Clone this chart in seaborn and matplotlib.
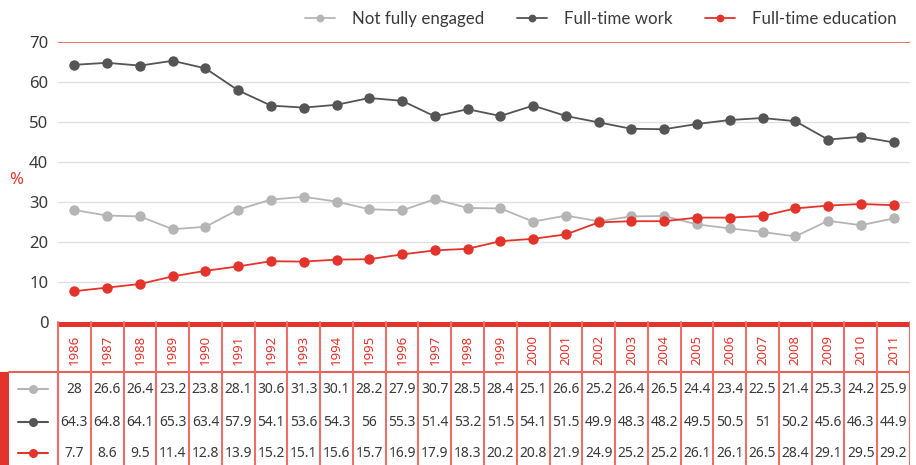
import numpy as np
import pandas as pd
import matplotlib
matplotlib.use("Agg")
import matplotlib.pyplot as plt
import seaborn as sns

years = list(range(1986, 2012))
not_engaged = [28, 26.6, 26.4, 23.2, 23.8, 28.1, 30.6, 31.3, 30.1, 28.2, 27.9, 30.7, 28.5,
               28.4, 25.1, 26.6, 25.2, 26.4, 26.5, 24.4, 23.4, 22.5, 21.4, 25.3, 24.2, 25.9]
ft_work = [64.3, 64.8, 64.1, 65.3, 63.4, 57.9, 54.1, 53.6, 54.3, 56, 55.3, 51.4, 53.2,
           51.5, 54.1, 51.5, 49.9, 48.3, 48.2, 49.5, 50.5, 51, 50.2, 45.6, 46.3, 44.9]
ft_edu = [7.7, 8.6, 9.5, 11.4, 12.8, 13.9, 15.2, 15.1, 15.6, 15.7, 16.9, 17.9, 18.3,
          20.2, 20.8, 21.9, 24.9, 25.2, 25.2, 26.1, 26.1, 26.5, 28.4, 29.1, 29.5, 29.2]
series_names = ["Not fully engaged", "Full-time work", "Full-time education"]
series_vals = [not_engaged, ft_work, ft_edu]
colors = ["#b5b5b5", "#555555", "#e3342c"]
yticks = [0, 10, 20, 30, 40, 50, 60, 70]

RED = "#e3342c"
DARK = "#3a3a3a"

df = pd.DataFrame({
    "year": years * 3,
    "value": not_engaged + ft_work + ft_edu,
    "series": sum([[n] * len(years) for n in series_names], []),
})

sns.set_theme(style="white")
plt.rcParams["font.family"] = ["Noto Sans", "DejaVu Sans"]

W, H = 916, 465
fig = plt.figure(figsize=(W / 100, H / 100), dpi=100)

# main chart area in pixels
left_px, right_px, top_px, zero_px = 58, 910, 42, 322
ax = fig.add_axes([left_px / W, 1 - zero_px / H, (right_px - left_px) / W, (zero_px - top_px) / H])
x0, x1 = years[0] - 0.5, years[-1] + 0.5

sns.lineplot(data=df, x="year", y="value", hue="series", hue_order=series_names,
             palette=colors, marker="o", markersize=7.5, markeredgewidth=0,
             linewidth=1.3, ax=ax, clip_on=False)
ax.set_xlim(x0, x1)
ax.set_ylim(0, 70)
ax.set_yticks(yticks)
ax.set_xticks([])
ax.set_xlabel("")
ax.set_ylabel("")
ax.tick_params(axis="y", length=0, pad=7, labelsize=12, labelcolor=DARK)
for s in ax.spines.values():
    s.set_visible(False)
for t in yticks[1:-1]:
    ax.axhline(t, color="#e2e2e2", lw=1, zorder=0)
ax.axhline(70, color="#e8625b", lw=1.3, zorder=0)
fig.text(16 / W, 1 - 180 / H, "%", color=RED, fontsize=12, ha="center", va="center")

handles, labels = ax.get_legend_handles_labels()
ax.get_legend().remove()
leg = fig.legend(handles, labels, loc="center right", bbox_to_anchor=(912 / W, 1 - 19 / H),
                 ncol=3, frameon=False, fontsize=12.2, handlelength=1.8,
                 columnspacing=1.9, handletextpad=1.0, markerscale=0.75)
for t in leg.get_texts():
    t.set_color(DARK)
    t.set_family(["Lato", "DejaVu Sans"])

# table area: x in year units, y in pixels
upp = (x1 - x0) / (right_px - left_px)
tab = fig.add_axes([0, 0, right_px / W, (H - 318) / H])
tab.set_xlim(x0 - left_px * upp, x1)
tab.set_ylim(H, 318)
tab.axis("off")

band_top, band_bot, row_top = 322, 327, 372
tab.fill_between([x0, x1], band_top, band_bot, color=RED, lw=0)
px = lambda p: x0 - (left_px - p) * upp
tab.fill_between([px(0), px(9)], row_top, H, color=RED, lw=0)
tab.plot([px(9), x1], [row_top, row_top], color="#e8625b", lw=1.5)

edges = np.arange(len(years) + 1) + x0
for e in edges:
    tab.plot([e, e], [band_top, H], color="#ec6e68", lw=1.5)
tab.plot([px(57.5), px(57.5)], [row_top, H], color="#ec6e68", lw=1.5)

for y, yr in zip(years, years):
    tab.text(y, 350, str(yr), rotation=90, ha="center", va="center",
             color=RED, fontsize=9.5)

row_y = [389, 422, 453]
for vals, c, ry in zip(series_vals, colors, row_y):
    tab.plot([px(18), px(48)], [ry, ry], color=c, lw=1.5)
    tab.plot([px(33)], [ry], marker="o", color=c, markersize=6.5, markeredgewidth=0)
    for y, v in zip(years, vals):
        tab.text(y, ry, f"{v:g}", ha="center", va="center", color=DARK, fontsize=10)

fig.savefig("out.png", dpi=100)
